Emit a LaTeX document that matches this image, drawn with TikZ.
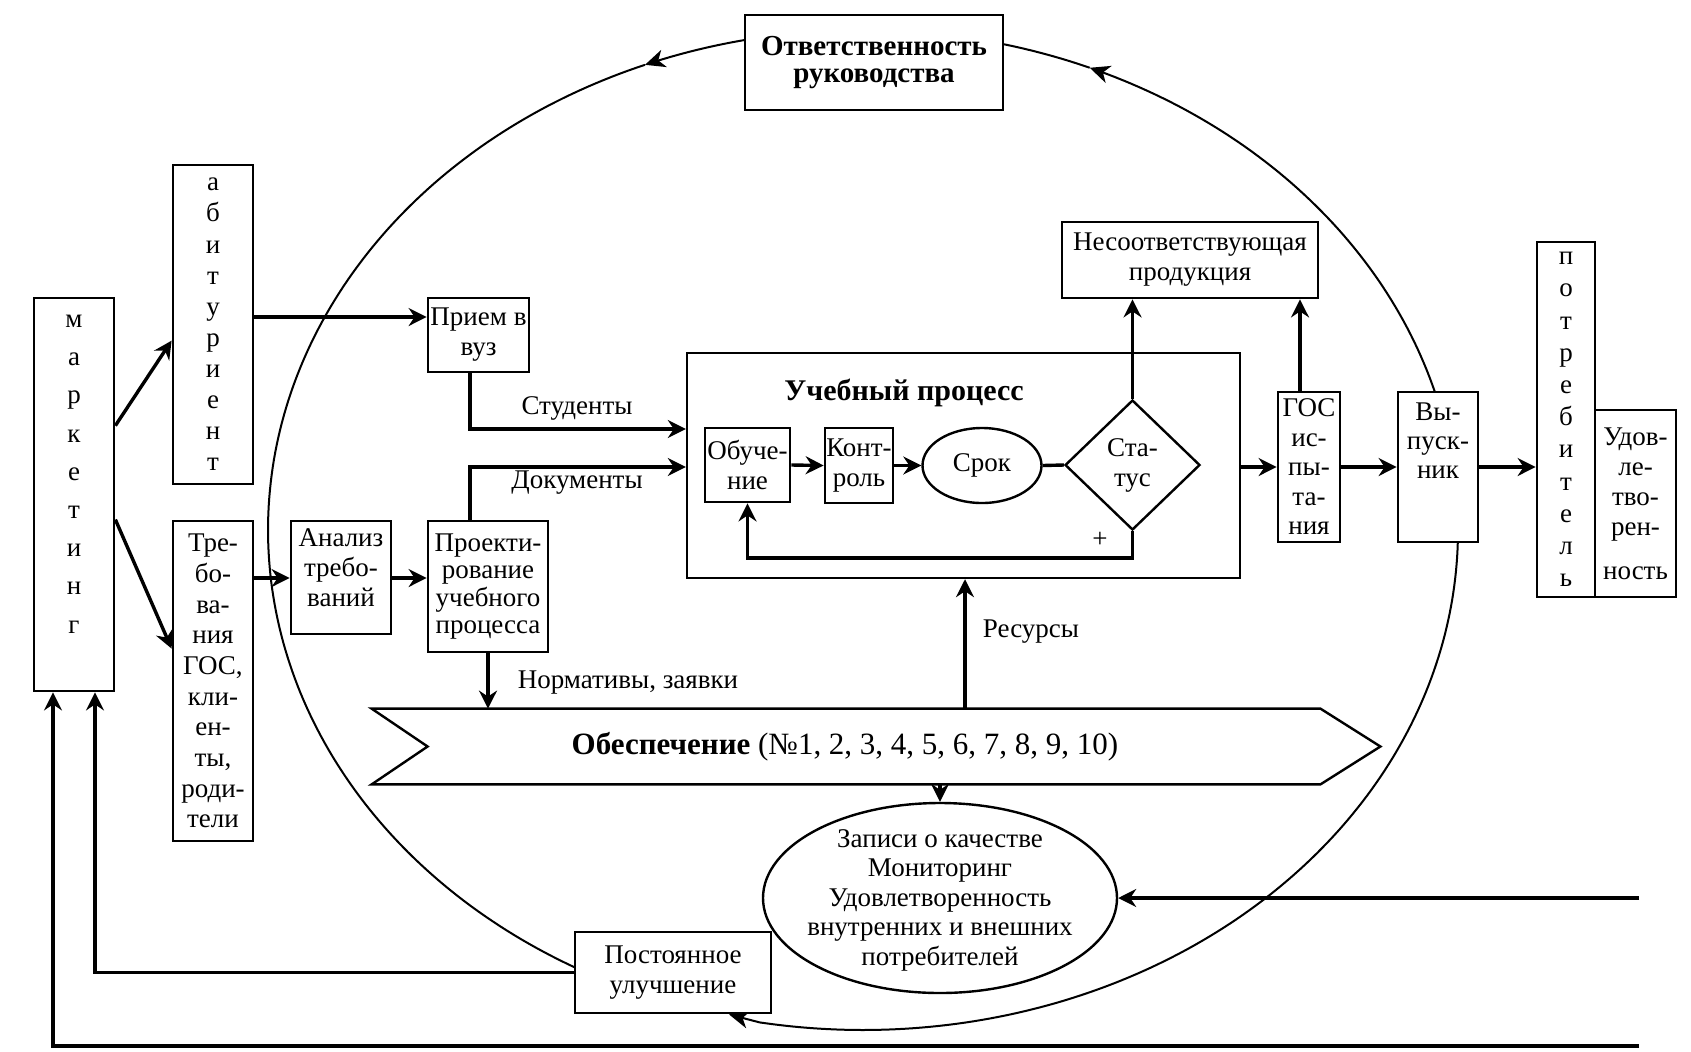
\documentclass[tikz,border=0pt]{standalone}
\usepackage{fontspec}
\setmainfont{Liberation Serif}
\usetikzlibrary{arrows.meta,shapes.geometric}
\pgfdeclarelayer{bg}
\pgfsetlayers{bg,main}
\newcommand{\dgf}{\fontsize{13.5}{15}\selectfont}
\begin{document}
\begin{tikzpicture}[x=0.5pt,y=-0.5pt,
  box/.style={draw, line width=1.4pt, fill=white, inner sep=1pt, align=center, font=\dgf},
  txt/.style={inner sep=0pt, align=center, font=\dgf},
  arr/.style={line width=1.7pt, -{Stealth[length=9pt,width=9pt,inset=3pt]}},
  ln/.style={line width=1.7pt},
  loopline/.style={line width=1pt},
  looparr/.style={line width=1pt, -{Stealth[length=10pt,width=9pt,inset=3pt]}}
]
\useasboundingbox (0,0) rectangle (1691,1051);

% nodes
\node[box, minimum width=40pt, minimum height=196.5pt] (mark) at (74,494.5) {};
\node[txt, font=\fontsize{13.5}{19.1}\selectfont] (markT) at (74,474) {м\\а\\р\\к\\е\\т\\и\\н\\г};
\node[box, minimum width=40pt, minimum height=159.5pt, font=\fontsize{13.5}{15.56}\selectfont] (abit) at (213,324.5) {а\\б\\и\\т\\у\\р\\и\\е\\н\\т};
\node[box, minimum width=40pt, minimum height=160pt, font=\fontsize{13.5}{15.33}\selectfont] (treb) at (213,681) {Тре-\\бо-\\ва-\\ния\\ГОС,\\кли-\\ен-\\ты,\\роди-\\тели};
\node[box, minimum width=50.5pt, minimum height=37pt, inner sep=0pt] (priem) at (478.5,335) {Прием в\\вуз};
\node[box, minimum width=50pt, minimum height=56.5pt] (analiz) at (341,577.5) {};
\node[txt] (analizT) at (341,568) {Анализ\\требо-\\ваний};
\node[box, minimum width=60pt, minimum height=65.5pt, font=\fontsize{13.5}{13.7}\selectfont] (proekt) at (488,586.5) {Проекти-\\рование\\учебного\\процесса};
\node[box, line width=1.2pt, minimum width=276.5pt, minimum height=112.5pt] (ucheb) at (963.5,465.5) {};
\node[txt, font=\fontsize{15}{16}\selectfont\bfseries] (uchebT) at (904,393) {Учебный процесс};
\node[box, inner sep=0pt, minimum width=42.5pt, minimum height=37pt] (obuch) at (747.5,465) {Обуче-\\ние};
\node[box, inner sep=0pt, minimum width=34pt, minimum height=37.5pt] (kontr) at (859,465.5) {Конт-\\роль};
\node[box, ellipse, inner sep=0pt, line width=1.2pt, minimum width=59.5pt, minimum height=37.5pt] (srok) at (982,465.5) {Срок};
\node[box, diamond, inner sep=0pt, line width=1.2pt, minimum width=67.5pt, minimum height=65pt] (status) at (1132.5,465) {Ста-\\тус};
\node[box, minimum width=128pt, minimum height=38pt] (nesoot) at (1190,260) {Несоответствующая\\продукция};
\node[box, inner sep=0pt, minimum width=31pt, minimum height=75pt, font=\fontsize{13.5}{14.75}\selectfont] (gos) at (1309,467) {ГОС\\ис-\\пы-\\та-\\ния};
\node[box, minimum width=40pt, minimum height=75pt] (vyp) at (1438,467) {};
\node[txt, font=\fontsize{13.5}{14.5}\selectfont] (vypT) at (1438,441) {Вы-\\пуск-\\ник};
\node[box, minimum width=29pt, minimum height=177.5pt, font=\fontsize{13.5}{16.1}\selectfont] (potreb) at (1566,419.5) {п\\о\\т\\р\\е\\б\\и\\т\\е\\л\\ь};
\node[box, minimum width=40.5pt, minimum height=93.5pt] (udovl) at (1635.5,503.5) {Удов-\\ле-\\тво-\\рен-\\[7pt]ность};
\node[box, minimum width=129pt, minimum height=47.5pt, font=\fontsize{14.5}{13.5}\selectfont\bfseries] (otvet) at (874,62.5) {Ответственность\\руководства};
\node[box, minimum width=98pt, minimum height=40.5pt] (post) at (673,972.5) {Постоянное\\улучшение};
\node[box, ellipse, inner sep=0pt, line width=1.2pt, minimum width=177pt, minimum height=95pt] (zapisi) at (940,898) {};
\node[txt, font=\fontsize{13.5}{14.75}\selectfont] (zapisiT) at (940,900) {Записи о качестве\\Мониторинг\\Удовлетворенность\\внутренних и внешних\\потребителей};
\node[inner sep=0pt, minimum width=504pt, minimum height=37.5pt] (obesp) at (876,746.5) {};
\draw[line width=1.2pt, fill=white] (obesp.north west) -- ([xshift=-30pt]obesp.north east) -- (obesp.east) -- ([xshift=-30pt]obesp.south east) -- (obesp.south west) -- ([xshift=28pt]obesp.west) -- cycle;
\node[txt, font=\fontsize{15.5}{17}\selectfont] (obespT) at (845,747) {\textbf{Обеспечение} (№1, 2, 3, 4, 5, 6, 7, 8, 9, 10)};

% labels
\node[txt] (studT) at (577,408) {Студенты};
\node[txt] (dokT) at (577,483) {Документы};
\node[txt] (normT) at (628,683) {Нормативы, заявки};
\node[txt] (resT) at (1031,632) {Ресурсы};
\node[txt] (plusT) at (1100,540) {+};

\coordinate (r1) at (1639,898);
\coordinate (r2) at (1639,1046);

% connectors
\draw[arr] ([yshift=-64.5pt]mark.north east) -- ([yshift=-88.5pt]abit.north west);
\draw[arr] ([yshift=-111.5pt]mark.north east) -- ([yshift=-64.5pt]treb.north west);
\draw[arr] (abit.east |- 0,317) -- (priem.west |- 0,317);
\draw[arr] (treb.east |- 0,578) -- (analiz.west |- 0,578);
\draw[arr] (analiz.east |- 0,578) -- (proekt.west |- 0,578);
\draw[arr] (priem.south -| 470,0) |- (ucheb.west |- 0,429);
\draw[arr] (proekt.north -| 470,0) |- (ucheb.west |- 0,467);
\draw[arr] (proekt.south) -- (proekt.south |- obesp.north);
\draw[arr] (obesp.north -| 965,0) -- (ucheb.south -| 965,0);
\draw[arr] (obesp.south -| zapisi.north) -- (zapisi.north);
\draw[arr] (obuch.east) -- (kontr.west);
\draw[arr] (kontr.east) -- (srok.west);
\draw[ln] (srok.east) -- (status.west);
\draw[arr] (status.north) -- (status.north |- nesoot.south);
\draw[arr] (status.south) -- (status.south |- 0,558) -| (obuch.south);
\draw[arr] (ucheb.east |- gos.west) -- (gos.west);
\draw[arr] ([xshift=-4.5pt]gos.north) -- ([xshift=-4.5pt]gos.north |- nesoot.south);
\draw[arr] (gos.east) -- (vyp.west |- gos.east);
\draw[arr] (vyp.east) -- (potreb.west |- vyp.east);
\draw[arr] (r1) -- (zapisi.east);
\draw[arr] (r2) -| ([xshift=-10.5pt]mark.south);
\draw[arr] (post.west) -| ([xshift=10.5pt]mark.south);

% big loop
\begin{pgfonlayer}{bg}
\draw[looparr] plot[domain=258.6:248.5, samples=20] ({863+595*cos(\x)},{530+500*sin(\x)});
\draw[loopline] plot[domain=248.5:118, samples=150] ({863+595*cos(\x)},{530+500*sin(\x)});
\draw[looparr] plot[domain=344:292.4, samples=60] ({863+595*cos(\x)},{530+500*sin(\x)});
\draw[loopline] plot[domain=292.4:283.6, samples=10] ({863+595*cos(\x)},{530+500*sin(\x)});
\draw[looparr] plot[domain=1.4:100, samples=120] ({863+595*cos(\x)},{530+500*sin(\x)}) -- ([xshift=28pt]post.south);
\end{pgfonlayer}
\end{tikzpicture}
\end{document}
